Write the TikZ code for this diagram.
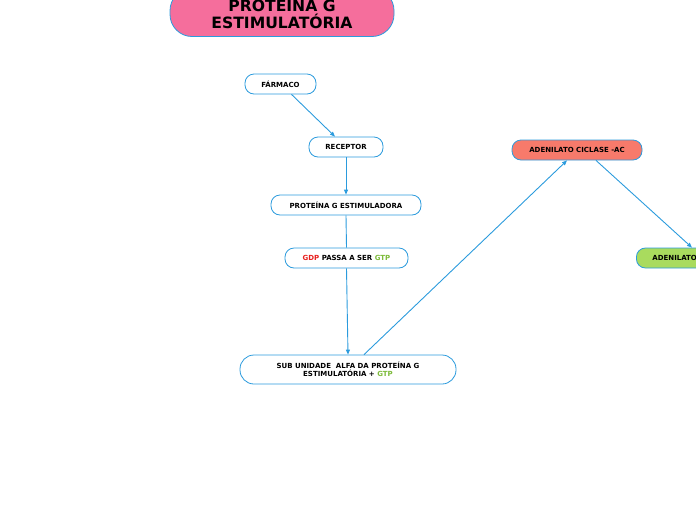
\documentclass[tikz,border=0pt]{standalone}
\usepackage{fontspec}
\setmainfont{DejaVu Sans}
\usetikzlibrary{arrows.meta}
\definecolor{lineblue}{HTML}{2B9BDD}
\definecolor{titlepink}{HTML}{F56E9C}
\definecolor{acred}{HTML}{F77A6B}
\definecolor{adgreen}{HTML}{A9DB5E}
\definecolor{gdpred}{HTML}{E8201E}
\definecolor{gtpgreen}{HTML}{7DBB3A}
\tikzset{
  box/.style={draw=lineblue, line width=0.8pt, fill=white, rounded corners=9pt,
    font=\bfseries\fontsize{7}{8}\selectfont, inner sep=0pt, minimum height=20pt, align=center},
  conn/.style={draw=lineblue, line width=0.9pt},
  arr/.style={conn, -{Triangle[length=5pt,width=4pt]}}
}
\begin{document}
\begin{tikzpicture}[x=1pt,y=-1pt]
\useasboundingbox (0,0) rectangle (696,520);
\clip (0,0) rectangle (696,520);
\node[box, fill=titlepink, rounded corners=22pt, minimum width=224pt, minimum height=48pt,
  font=\bfseries\fontsize{15.6}{17}\selectfont] (title) at (282,12.5) {PROTEÍNA G\\ESTIMULATÓRIA};
\node[box, minimum width=71pt] (farm) at (280.5,84) {FÁRMACO};
\node[box, minimum width=74pt] (rec) at (346,147) {RECEPTOR};
\node[box, minimum width=150pt] (prot) at (346,205) {PROTEÍNA G ESTIMULADORA};
\node[box, minimum width=123pt] (gdp) at (346.5,258) {\textcolor{gdpred}{GDP} PASSA A SER \textcolor{gtpgreen}{GTP}};
\node[box, minimum width=216pt, minimum height=29pt, rounded corners=14pt] (sub) at (348,369.5)
  {SUB UNIDADE\ \ ALFA DA PROTEÍNA G\\ESTIMULATÓRIA + \textcolor{gtpgreen}{GTP}};
\node[box, fill=acred, minimum width=130pt] (ac) at (577,150) {ADENILATO CICLASE -AC};
\node[box, fill=adgreen, anchor=west, text width=110pt, align=left, inner xsep=16pt] (ad) at (636,258) {ADENILATO};
\draw[arr] ([xshift=11pt]farm.south) -- ([xshift=-11pt]rec.north);
\draw[arr] (rec.south) -- (prot.north);
\draw[conn] (prot.south) -- (gdp.north);
\draw[arr] (gdp.south) -- ([xshift=0pt]sub.north);
\draw[arr] ([xshift=16pt]sub.north) -- ([xshift=-10pt]ac.south);
\draw[arr] ([xshift=19pt]ac.south) -- ([xshift=56pt]ad.north west);
\end{tikzpicture}
\end{document}
